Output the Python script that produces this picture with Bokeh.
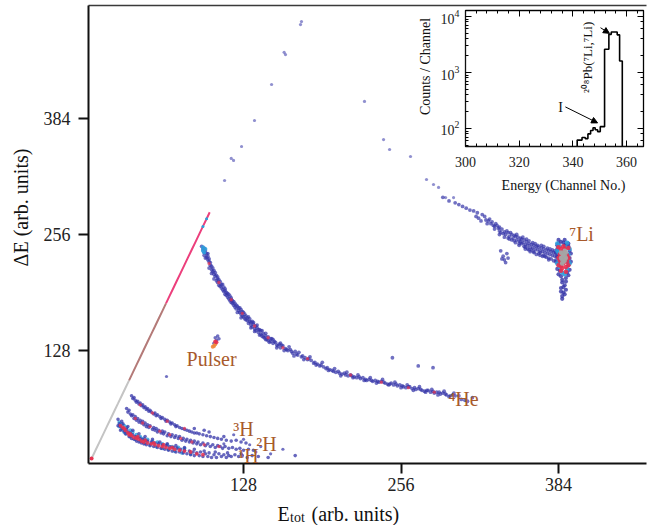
import math
from bokeh.plotting import figure
from bokeh.layouts import column
from bokeh.models import (Range1d, FixedTicker, LinearAxis, LogAxis, Label, Arrow,
                          NormalHead, SingleIntervalTicker)
from bokeh.embed import file_html
from bokeh.resources import INLINE

FONT = "Liberation Serif"
BROWN = "#a85a2c"
BLUE = "#3434a8"
RED = "#e8304e"
CYAN = "#2c9fdc"
GRAY = "#a4a4a4"
ORANGE = "#f08a3c"

# ---------------- main plot data (E_tot, dE) ----------------
x_ticks = [128, 256, 384]
y_ticks = [128, 256, 384]

diag_x = [4.5, 8, 11, 14, 17, 20, 23, 26, 29, 32, 35, 38, 41, 44, 47, 50, 53, 56, 59, 62,
          65, 68, 71, 74, 77, 80, 83, 86, 89, 92, 95, 98, 100.5]
diag_y = [8.8, 18.7, 27.2, 35.7, 44.2, 52.7, 61.2, 69.6, 78.1, 86.6, 95.1, 103.6, 112.1,
          120.6, 129.1, 137.6, 146.1, 154.5, 163.0, 171.5, 180.0, 188.5, 197.0, 205.5,
          214.0, 222.5, 231.0, 239.4, 247.9, 256.4, 264.9, 273.4, 280.5]

h1_blue = [(26,52),(27,47),(28,44),(26,45),(29,50),(30,42),(31,39),(28,40),(32,36),(33,41),(34,38),
           (35,33),(36,37),(37,31),(38,35),(39,30),(40,33),(41,28),(42,32),(43,27),(44,31),(45,26),
           (46,30),(47,25),(48,29),(49,24),(50,28),(52,23),(53,27),(55,22),(56,26),(58,21),(59,25),
           (61,20),(62,24),(64,19),(65,23),(67,18),(68,22),(70,17),(71,21),(73,16),(74,20),(76,16),
           (77,19),(79,15),(80,18),(82,14),(84,17),(85,13),(87,16),(88,12),(90,15),(92,12),(93,16),
           (95,11),(97,14),(99,11),(100,15),(102,10),(104,13),(106,10),(108,14),(110,11),(112,13),
           (114,10),(116,12),(118,11),(121,13),(124,11),(127,12),(131,10),(135,12),(140,11),
           (148,10),(170,12),(30,47),(34,44),(38,40),(43,36),(48,33),(54,30),(60,27),(66,25),
           (73,23),(80,21),(88,19),(96,17),(105,16),(115,15),(126,14)]
h1_red = [(28,45),(30,43),(32,40),(34,37),(35,35),(37,34),(39,32),(41,31),(43,30),(45,28),(47,27),
          (50,26),(53,25),(56,24),(59,23),(62,22),(65,21),(68,20),(72,19),(76,18),(80,17),(85,16),
          (90,14),(95,13),(31,42),(36,36),(42,33),(48,29),(55,26),(63,24),(70,21)]
h1_cyan = [(27,49),(29,47),(31,45),(33,43),(36,40),(38,38),(41,35),(44,33),(47,31),(50,30),(54,28),
           (58,27),(62,25),(66,24),(70,22),(75,21),(80,20),(33,36),(36,33),(40,30),(44,28),(48,26),
           (52,24),(57,22),(62,20),(67,19),(72,17),(78,15),(85,14),(27,44),(29,41),(31,38)]

h2_blue = [(33,64),(34,60),(35,62),(36,58),(37,56),(38,57),(39,53),(40,55),(41,51),(42,53),(43,49),
           (44,51),(45,48),(46,50),(47,46),(48,48),(49,44),(50,46),(51,43),(52,45),(54,41),(55,43),
           (56,40),(57,42),(58,38),(59,40),(61,37),(62,39),(63,36),(64,38),(66,34),(67,36),(69,33),
           (70,35),(72,32),(73,34),(75,31),(76,33),(78,29),(79,31),(81,28),(82,30),(84,27),(85,29),
           (87,26),(88,28),(90,25),(91,27),(93,24),(95,26),(97,23),(99,25),(101,22),(103,24),
           (105,21),(107,23),(109,22),(111,20),(113,22),(116,20),(119,21),(122,19),(125,20),
           (128,18),(132,19),(136,18)]
h2_red = [(40,53),(46,48),(52,44),(60,39),(68,35),(77,31),(86,27),(96,24),(108,22)]

h3_blue = [(37,78),(38,75),(39,76),(40,73),(41,71),(42,72),(43,69),(44,70),(45,67),(46,68),(47,65),
           (48,66),(49,63),(50,64),(51,61),(52,62),(53,60),(55,58),(56,59),(57,56),(58,57),(60,55),
           (61,53),(62,54),(64,52),(65,50),(66,51),(68,49),(69,47),(70,48),(72,46),(73,44),(74,45),
           (76,43),(78,42),(80,41),(82,40),(84,39),(86,38),(88,37),(90,37),(92,36),(95,35),(98,34),
           (101,33),(104,32),(107,31),(110,30),(114,29),(118,28),(122,29),(126,27),(130,26),
           (112,33),(100,38),(96,40),(88,42)]
h3_red = [(44,68),(54,59),(66,50),(80,42)]
h_sparse = [(120,35),(128,30),(133,24),(138,16),(112,25),(142,22),(150,14),(160,19),(65.4,99.3)]

he4_blue = [(95,240),(96,236),(97,238),(96,233),(98,231),(99,228),(100,226),(101,222),(100,219),
            (102,217),(103,215),(104,212),(105,210),(104,207),(106,205),(107,203),(108,200),
            (109,204),(110,197),(111,195),(112,193),(113,190),(114,192),(115,187),(116,185),
            (117,183),(118,186),(119,180),(120,178),(121,176),(122,174),(123,177),(124,172),
            (125,170),(126,168),(127,171),(128,165),(129,163),(130,166),(131,161),(132,158),
            (133,160),(134,156),(135,154),(136,157),(137,152),(138,150),(139,153),(140,148),
            (141,151),(142,146),(143,144),(144,147),(145,142),(146,144),(147,140),(148,143),
            (150,138),(151,141),(152,136),(154,137),(155,134),(157,135),(158,131),(160,133),
            (162,130),(164,128),(166,129),(168,125),(170,127),(172,123),(175,121),(178,120),
            (180,118),(183,117),(185,114),(188,113),(190,111),(193,110),(195,108),(198,107),
            (200,106),(203,104),(205,105),(208,102),(210,103),(213,100),(215,101),(218,99),
            (220,98),(223,97),(225,98),(228,95),(230,96),(233,94),(235,95),(238,93),(240,94),
            (243,92),(245,91),(248,92),(250,90),(253,89),(255,90),(258,88),(260,87),(263,88),
            (265,86),(268,85),(270,86),(273,84),(275,83),(278,84),(280,82),(283,81),(285,82),
            (288,80),(290,81),(293,79),(296,78),(300,78),(305,74),(310,72),
            (96,241),(98,235),(99,232),(101,225),(103,219),(102,213),(105,214),(107,207),
            (108,206),(110,201),(112,198),(113,196),(115,191),(117,188),(118,181),(120,182),
            (122,178),(124,175),(126,173),(127,166),(129,168),(131,164),(133,163),(134,159),
            (136,159),(138,155),(140,151),(142,150),(144,143),(146,147),(148,139),(150,141),
            (153,138),(156,133),(159,134),(163,129),(167,127),(171,124),(176,122),(181,119),
            (186,115),(191,112),(196,109),(201,105),(206,103),(211,101),(216,100),(222,99),
            (227,96),(232,95),(237,94),(242,93),(247,91),(252,91),(257,89),(262,88),(267,87),
            (272,85),(277,84),(282,83),(287,82),(292,80),(298,79),
            (94,243),(97,230),(99,235),(100,229),(102,221),(104,216),(106,211),(107,209),
            (109,199),(111,201),(113,194),(114,189),(116,190),(118,184),(119,183),(121,180),
            (123,170),(125,175),(126,164),(128,170),(130,162),(132,165),(134,153),(135,160),
            (137,149),(139,156),(141,145),(143,150),(146,140),(149,137),(152,140),(155,131),
            (158,136),(161,128),(165,132),(169,122),(173,126),(177,118),(182,121),(187,112),
            (192,115),(197,106),(202,108),(207,100),(212,104),(217,98),(221,101),(226,95),
            (231,98),(236,92),(241,96),(246,90),(251,93),(256,87),(261,90),(266,84),(271,88),
            (276,82),(281,85),(286,79),(291,83),(295,77),(299,81),(303,78),
            (249,120),(270,111),(282,109),(308,73),(314,76)]
he4_red = [(100,224),(108,203),(118,184),(127,169),(137,155),(148,142),(160,131),(180,119),
           (215,101),(240,93),(262,87),(283,82)]
he4_cyan = [(95,238),(96,236),(97,240),(95,242)]

li_arc = [(112.6,315.6),(119.9,337.7),(126.4,353.1),(136.9,381.8),(150.8,421.5),(162.1,454.6),
          (175.1,491),(174.3,487.7),(161,457),(118,340),
          (226.3,402.8),(241.8,360.8),(246.7,349.8),(263.7,342.1),(276.7,316.7),(282.4,311.2),
          (286.5,307.9),(292.2,296.8),(298.7,296.8)]
li_blue = [(290,297),(295,293),(300,291),(303,289),(306,287),(309,285),(312,283),(315,282),(317,276),
           (319,274),(322,278),(325,272),(327,271),(329,268),(331,266),(333,268),(335,263),(336,260),
           (338,262),(340,259),(341,256),(343,258),(344,254),(346,256),(347,252),(349,254),(350,250),
           (351,253),(352,249),(354,251),(355,247),(356,250),(357,245),(358,248),(359,244),(360,246),
           (361,242),(362,245),(363,241),(364,244),(365,240),(366,243),(367,239),(368,242),(369,238),
           (370,241),(371,237),(372,240),(373,236),(374,239),(375,235),(376,238),(377,234),(378,237),
           (379,233),(380,236),(381,232),(382,235),(383,231),(384,234),(376,230),(372,233),(368,235),
           (364,237),(360,239),(356,243),(352,246),(348,249),(344,251),(340,253),(336,256),(332,262),
           (337,238),(339,232),(340,228),(342,235),(341,225),(343,230),(338,229),
           (318,280),(321,271),(324,276),(326,268),(328,273),(330,270),(332,265),(334,266),(336,264),
           (337,258),(339,257),(342,260),(343,252),(345,258),(346,250),(348,255),(349,247),(350,256),
           (352,244),(353,252),(354,246),(355,253),(357,242),(358,251),(359,240),(360,249),(362,239),
           (363,247),(364,236),(365,246),(366,234),(367,244),(369,233),(370,244),(371,232),(372,243),
           (374,231),(375,241),(376,228),(377,240),(378,229),(379,239),(380,227),(381,238),(382,228),
           (383,238),(373,232),(369,236),(361,237),(357,240),(353,248)]
li_clu_blue = [(384,246),(386,248),(388,247),(390,245),(392,243),(383,240),(393,238),(383,232),
               (393,230),(384,224),(392,222),(385,216),(391,214),(386,210),(390,208),(387,203),
               (389,200),(386,197),(390,195),(388,192),(387,188),(389,244),(385,228),(391,226),
               (383,244),(392,246),(384,250),(389,250),(382,236),(394,235),(382,226),(394,226),
               (383,218),(393,217),(384,212),(392,211),(387,206),(388,198),(389,190),(387,185),
               (386,193),(390,204)]
li_cyan = [(385,243),(390,242),(384,236),(392,234),(384,228),(392,227),(385,220),(391,218),(387,214),
           (389,212),(383,246),(391,247),(383,238),(393,240),(383,224),(393,224)]
li_red = [(386,240),(389,240),(385,234),(391,233),(385,227),(391,226),(386,221),(390,220),(387,237),
          (388,224),(384,242),(392,241),(384,230),(392,230),(384,222),(392,222),(386,216),(390,215),
          (388,243),(387,219)]
li_gray = [(387,235),(389,233),(388,230),(387,228),(389,227),(388,232),(386,236),(390,236),
           (386,230),(390,230),(387,224),(389,238),(388,226)]

pulser_blue = [(105,142),(107,144),(108,141),(104,136),(106,139)]
pulser_orange = [(104,133),(105,135),(103,132)]
pulser_red = [(106,137),(105,138)]

# particle labels in data coordinates: (text, x, y)
particle_labels = [("\u2077Li", 402.7, 257.1), ("\u2074He", 306.8, 75.0), ("Pulser", 102.0, 118.1),
                   ("\u00b3H", 128.0, 41.9), ("\u00b2H", 146.7, 24.3)]

# ---------------- inset data ----------------
hist_x = [341.6, 341.6, 343.4, 344.6, 345.6, 346.6, 347.5, 348.3, 349.2, 350.2, 351.8, 353.4,
          354.3, 356.5, 357.4, 358.4]
hist_y = [1, 62, 69, 66, 80, 92, 103, 95, 88, 108, 2600, 4800, 5300, 4700, 1600, 1]


def xs(pts):
    return [a for a, b in pts]


def ys(pts):
    return [b for a, b in pts]


p = figure(width=649, height=525, x_range=Range1d(2.0, 455.5), y_range=Range1d(3.3, 508.7),
           output_backend="svg", toolbar_location=None,
           min_border_left=88, min_border_right=3, min_border_top=5, min_border_bottom=62)
p.outline_line_color = None
p.grid.visible = False
p.background_fill_color = "white"
p.xaxis.ticker = FixedTicker(ticks=x_ticks)
p.yaxis.ticker = FixedTicker(ticks=y_ticks)
for ax in (p.xaxis[0], p.yaxis[0]):
    ax.axis_line_width = 2
    ax.axis_line_color = "#111111"
    ax.major_tick_line_width = 2
    ax.major_tick_line_color = "#111111"
    ax.major_tick_out = 10
    ax.major_tick_in = 0
    ax.minor_tick_out = 0
    ax.minor_tick_in = 0
    ax.major_label_text_font = FONT
    ax.major_label_text_font_size = "18px"
    ax.major_label_text_color = "#222222"
p.xaxis.major_label_standoff = 4
p.yaxis.major_label_standoff = 8
top = LinearAxis(ticker=FixedTicker(ticks=[]), major_tick_out=0, major_tick_in=0,
                 minor_tick_out=0, minor_tick_in=0, major_label_standoff=0,
                 axis_line_width=1.6, axis_line_color="#3a3a3a")
p.add_layout(top, "above")

# diagonal line
p.line(diag_x[0:11], diag_y[0:11], line_color="#c4c4c4", line_width=2.0)
p.line(diag_x[10:21], diag_y[10:21], line_color="#b47a78", line_width=2.0)
p.line(diag_x[20:], diag_y[20:], line_color="#ec3f7c", line_width=2.0)
p.scatter(diag_x[0:1], diag_y[0:1], size=4, color=RED, line_color=None)
p.scatter(diag_x[30:32], diag_y[30:32], size=3, color=CYAN, line_color=None)

for pts, col, a, s in [(h1_cyan, CYAN, 0.8, 3.8), (h1_blue, BLUE, 0.75, 3.6), (h1_red, RED, 0.85, 3.8),
                       (h2_blue, BLUE, 0.75, 3.6), (h2_red, RED, 0.7, 3.4), (h3_blue, BLUE, 0.75, 3.6),
                       (h3_red, RED, 0.7, 3.4), (h_sparse, BLUE, 0.7, 3.2),
                       (he4_blue, BLUE, 0.7, 3.8), (he4_red, RED, 0.7, 3.4), (he4_cyan, CYAN, 0.9, 4),
                       (li_arc, BLUE, 0.55, 3.2), (li_blue, BLUE, 0.7, 3.8),
                       (li_clu_blue, BLUE, 0.8, 4.2), (li_cyan, CYAN, 0.9, 4.5),
                       (li_red, RED, 0.9, 4.5), (li_gray, GRAY, 0.95, 4.5),
                       (pulser_blue, BLUE, 0.7, 3.6), (pulser_orange, ORANGE, 0.9, 4),
                       (pulser_red, RED, 0.9, 4)]:
    p.scatter(xs(pts), ys(pts), size=s, color=col, alpha=a, line_color=None)

for t, x, y in particle_labels:
    p.add_layout(Label(x=x, y=y, text=t, text_align="center", text_baseline="middle",
                       text_font=FONT, text_font_size="20px", text_color=BROWN))

# ---------------- inset ----------------
ins = figure(width=269, height=190, x_range=Range1d(300, 366.3), y_range=Range1d(47.7, 12800),
             y_axis_type="log", output_backend="svg", toolbar_location=None,
             min_border_left=88, min_border_right=3, min_border_top=2, min_border_bottom=52)
ins.margin = (-517, 0, 0, 377)
ins.border_fill_alpha = 0
ins.background_fill_color = "white"
ins.outline_line_color = "#111111"
ins.outline_line_width = 1.3
ins.grid.visible = False
ins.xaxis.ticker = SingleIntervalTicker(interval=20, num_minor_ticks=5)
for ax in (ins.xaxis[0], ins.yaxis[0]):
    ax.major_tick_in = 6
    ax.major_tick_out = 0
    ax.minor_tick_in = 3
    ax.minor_tick_out = 0
    ax.axis_line_color = "#111111"
    ax.major_label_text_font = FONT
    ax.major_label_text_font_size = "14px"
    ax.major_label_text_color = "#222222"
ins.xaxis.major_label_standoff = 10
ins.yaxis.major_label_standoff = 6
r_ax = LogAxis(major_tick_in=6, major_tick_out=0, minor_tick_in=3, minor_tick_out=0,
               major_label_text_font_size="1px", major_label_text_color=None,
               major_label_standoff=0)
ins.add_layout(r_ax, "right")
t_ax = LinearAxis(ticker=SingleIntervalTicker(interval=20, num_minor_ticks=5),
                  major_tick_in=6, major_tick_out=0, minor_tick_in=3, minor_tick_out=0,
                  major_label_text_font_size="1px", major_label_text_color=None,
                  major_label_standoff=0)
ins.add_layout(t_ax, "above")

ins.step(hist_x, hist_y, mode="after", line_color="black", line_width=1.6)

ins.add_layout(Label(x=335.4, y=237, text="I", text_align="center", text_baseline="middle",
                     text_font=FONT, text_font_size="14px", text_color="#111111"))
ins.add_layout(Label(x=345.6, y=1860, text="\u00b2\u2070\u2078Pb(\u2077Li,\u2077Li)",
                     angle=math.pi / 2, text_align="center", text_baseline="middle",
                     text_font=FONT, text_font_size="13px", text_color="#111111"))
ins.add_layout(Arrow(end=NormalHead(size=6, fill_color="black", line_color="black"),
                     x_start=337.2, y_start=243, x_end=349.2, y_end=126, line_width=1))
ins.add_layout(Arrow(end=NormalHead(size=6, fill_color="black", line_color="black"),
                     x_start=350.3, y_start=6300, x_end=353.6, y_end=5000, line_width=1))


def overlay(x0, x1, margin):
    o = figure(width=649, height=525, x_range=Range1d(x0, x1), y_range=Range1d(525, 0),
               output_backend="svg", toolbar_location=None, x_axis_location=None,
               y_axis_location=None, min_border_left=88, min_border_right=3,
               min_border_top=0, min_border_bottom=0)
    o.margin = margin
    o.outline_line_color = None
    o.grid.visible = False
    o.background_fill_alpha = 0
    o.border_fill_alpha = 0
    return o


# transparent overlays in page pixel coordinates for texts outside the frames
ov = overlay(88, 646, (-198, 0, 0, 0))
ovl = overlay(0, 558, (-525, 0, 0, -88))   # shifted left so its frame starts at the page edge

ovl.add_layout(Label(x=20, y=207, text="\u0394E (arb. units)", angle=math.pi / 2,
                     text_align="center", text_baseline="middle", text_font=FONT,
                     text_font_size="20px", text_color="#111111"))
ov.add_layout(Label(x=277, y=513, text="E", text_align="left", text_baseline="alphabetic",
                    text_font=FONT, text_font_size="20px", text_color="#111111"))
ov.add_layout(Label(x=289.5, y=517, text="tot", text_align="left", text_baseline="alphabetic",
                    text_font=FONT, text_font_size="14px", text_color="#111111"))
ov.add_layout(Label(x=311, y=513, text="(arb. units)", text_align="left",
                    text_baseline="alphabetic", text_font=FONT, text_font_size="20px",
                    text_color="#111111"))
ov.add_layout(Label(x=425, y=66, text="Counts / Channel", angle=math.pi / 2,
                    text_align="center", text_baseline="middle", text_font=FONT,
                    text_font_size="14px", text_color="#111111"))
ov.add_layout(Label(x=563, y=185, text="Energy (Channel No.)", text_align="center",
                    text_baseline="middle", text_font=FONT, text_font_size="14px",
                    text_color="#111111"))
ov.add_layout(Label(x=248, y=455, text="\u00b9H", text_align="center", text_baseline="middle",
                    text_font=FONT, text_font_size="20px", text_color=BROWN))

layout = column(p, ins, ov, ovl)
open("out.html", "w").write(file_html(layout, INLINE))
